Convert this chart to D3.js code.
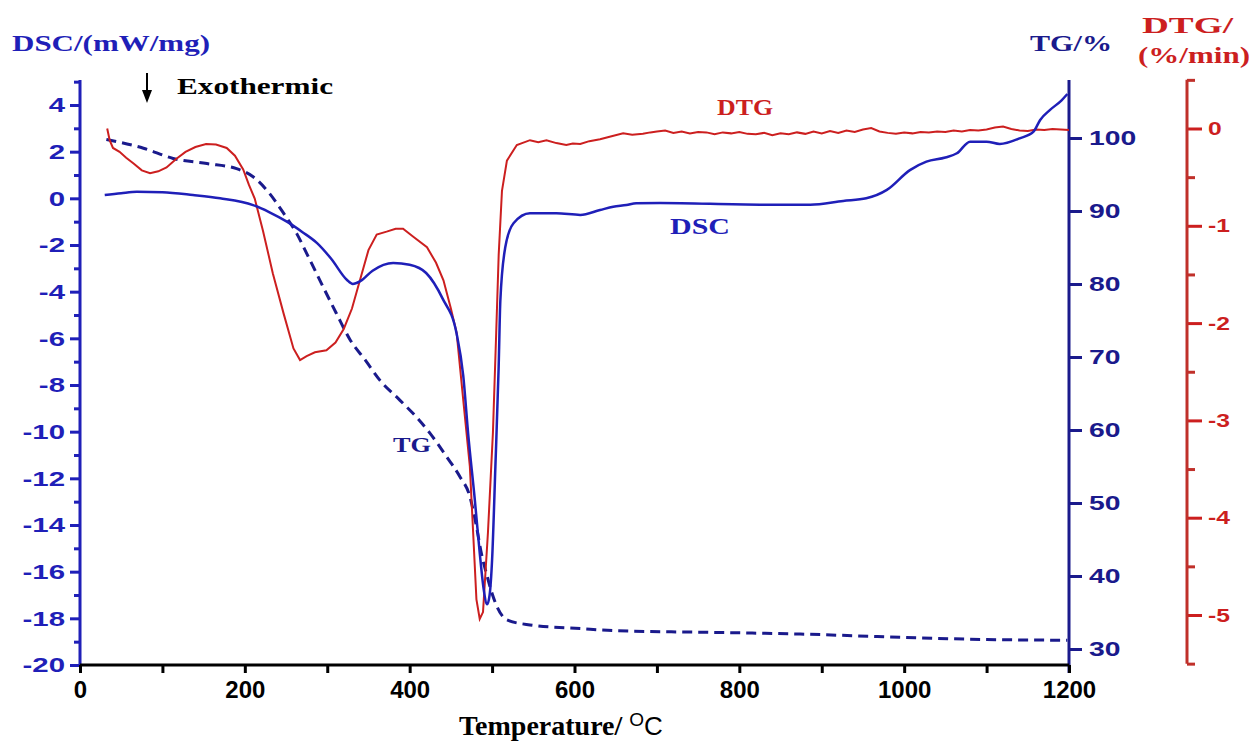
<!DOCTYPE html>
<html>
<head>
<meta charset="utf-8">
<script src="https://cdn.jsdelivr.net/npm/d3@7/dist/d3.min.js"></script>
<style>
  body { margin: 0; background: #fff; }
  svg { display: block; font-family: "Liberation Serif", "Times New Roman", serif; }
</style>
</head>
<body>
<div id="chart"></div>
<script>
// DSC curve (mW/mg) against temperature (°C)
const dscTemp = [30, 50, 69, 100, 137, 170, 210, 230, 251, 270, 288, 305, 324, 331, 340, 355, 380, 400, 420, 440,
  457, 465, 471, 479, 485, 490, 494, 497, 500, 504, 508, 510, 516, 526, 546, 578, 607, 631, 647, 663,
  675, 704, 825, 886, 926, 954, 979, 1007, 1027, 1050, 1064, 1080, 1100, 1116, 1140, 1157, 1165, 1177, 1191, 1198];
const dscValue = [0.14, 0.22, 0.28, 0.26, 0.14, 0.0, -0.29, -0.6, -1.0, -1.45, -1.93, -2.6, -3.5, -3.67, -3.55, -3.1, -2.77, -2.85, -3.2, -4.3,
  -5.8, -7.6, -10.1, -12.9, -15.2, -16.8, -17.4, -17.0, -15.5, -11.5, -7.2, -4.4, -2.1, -1.07, -0.64, -0.64, -0.71, -0.5, -0.36, -0.29,
  -0.21, -0.2, -0.27, -0.27, -0.11, 0.0, 0.36, 1.21, 1.57, 1.75, 1.93, 2.43, 2.43, 2.33, 2.57, 2.86, 3.36, 3.79, 4.2, 4.47];

// TG curve (%)
const tgTemp = [32, 77, 113, 154, 190, 210, 230, 247, 263, 275, 295, 311, 328, 346, 364, 388, 408, 425, 445, 461,
  473, 481, 487, 493, 500, 506, 518, 546, 607, 650, 752, 874, 995, 1100, 1198];
const tgValue = [99.8, 98.6, 97.2, 96.5, 95.8, 94.7, 92.4, 89.7, 86.9, 84.2, 79.6, 76.0, 72.3, 69.6, 66.8, 64.1, 61.8, 59.5, 56.3, 53.6,
  50.9, 46.8, 43.1, 40.4, 37.6, 35.8, 34.0, 33.3, 32.8, 32.5, 32.3, 32.05, 31.6, 31.3, 31.2];

// DTG curve (%/min)
const dtgTemp = [33, 36, 40, 48, 56, 65, 75, 85, 95, 105, 117, 128, 140, 153, 165, 178, 188, 198, 205, 212,
  222, 234, 247, 259, 267, 275, 285, 299, 310, 320, 330, 340, 350, 360, 372, 383, 392, 404, 421, 432,
  441, 450, 457, 465, 473, 477, 481, 485, 489, 495, 501, 505, 508, 512, 518, 530, 546, 556, 566, 578,
  590, 598, 607, 618, 631, 645, 659, 670, 683, 692, 700, 710, 720, 730, 740, 750, 760, 770, 780, 790,
  800, 810, 820, 830, 840, 850, 860, 870, 880, 890, 900, 910, 920, 930, 940, 950, 960, 970, 980, 990,
  1000, 1010, 1020, 1030, 1040, 1050, 1060, 1070, 1080, 1090, 1100, 1110, 1120, 1130, 1140, 1150, 1160, 1170, 1180, 1190, 1200];
const dtgValue = [0.0, -0.12, -0.2, -0.24, -0.3, -0.36, -0.43, -0.46, -0.44, -0.4, -0.31, -0.24, -0.19, -0.16, -0.165, -0.2, -0.28, -0.42, -0.58, -0.72,
  -1.05, -1.49, -1.9, -2.26, -2.38, -2.34, -2.3, -2.28, -2.2, -2.06, -1.85, -1.55, -1.25, -1.09, -1.06, -1.03, -1.03, -1.11, -1.22, -1.38,
  -1.56, -1.85, -2.1, -2.79, -3.47, -4.15, -4.84, -5.04, -4.97, -4.15, -3.13, -2.1, -1.3, -0.64, -0.33, -0.17, -0.12, -0.14, -0.12, -0.15,
  -0.17, -0.155, -0.16, -0.13, -0.11, -0.08, -0.05, -0.065, -0.055, -0.04, -0.03, -0.02, -0.045, -0.03, -0.05, -0.035, -0.04, -0.06, -0.04, -0.05,
  -0.035, -0.055, -0.06, -0.045, -0.07, -0.05, -0.06, -0.04, -0.055, -0.03, -0.05, -0.025, -0.045, -0.02, -0.035, -0.01, 0.005, -0.03, -0.045, -0.055,
  -0.04, -0.05, -0.035, -0.04, -0.03, -0.035, -0.02, -0.03, -0.015, -0.02, -0.01, 0.01, 0.02, -0.005, -0.02, -0.025, -0.01, -0.015, -0.005, -0.01, -0.015];

// Tick values
const tempTicks = [0, 200, 400, 600, 800, 1000, 1200];
const tempMinor = [100, 300, 500, 700, 900, 1100];
const dscTicks = [-20, -18, -16, -14, -12, -10, -8, -6, -4, -2, 0, 2, 4];
const dscMinor = [-19, -17, -15, -13, -11, -9, -7, -5, -3, -1, 1, 3, 5];
const tgTicks = [30, 40, 50, 60, 70, 80, 90, 100];
const dtgTicks = [-5, -4, -3, -2, -1, 0];
const dtgMinor = [-5.5, -4.5, -3.5, -2.5, -1.5, -0.5, 0.5];

const BLUE = '#1f1fb8';
const NAVY = '#1a1a8c';
const RED = '#cc1f1f';
const DARKRED = '#c0302a';

const width = 1259;
const height = 742;
const plot = { left: 80, right: 1069, top: 80, bottom: 665 };
const dtgAxisX = 1187;

const svg = d3.select('#chart').append('svg').attr('width', width).attr('height', height);

// Scales
const x = d3.scaleLinear().domain([0, 1200]).range([plot.left, plot.right]);
const yDsc = d3.scaleLinear().domain([-20, 4]).range([665, 105]);
const yTg = d3.scaleLinear().domain([30, 100]).range([649, 138]);
const yDtg = d3.scaleLinear().domain([-5, 0]).range([615, 128.5]);

// stretch text horizontally like the source figure
function widen(sel, k) {
  sel.each(function () {
    const w = this.getComputedTextLength();
    d3.select(this).attr('textLength', w * k).attr('lengthAdjust', 'spacingAndGlyphs');
  });
}

function styleAxis(g, color, fontSize) {
  g.select('.domain').remove();
  g.selectAll('line').attr('stroke', color).attr('stroke-width', 3);
  g.selectAll('text')
    .attr('fill', color)
    .attr('font-size', fontSize)
    .attr('font-weight', 'bold');
}

// Left DSC axis
const gLeft = svg.append('g').attr('transform', `translate(${plot.left},0)`);
gLeft.call(d3.axisLeft(yDsc).tickValues(dscMinor).tickSize(6).tickFormat(''));
gLeft.call(g => styleAxis(g, BLUE, 21));
const gLeftMajor = svg.append('g').attr('transform', `translate(${plot.left},0)`)
  .call(d3.axisLeft(yDsc).tickValues(dscTicks).tickSize(10).tickPadding(5).tickFormat(d => d));
styleAxis(gLeftMajor, BLUE, 21);
gLeftMajor.selectAll('text').call(widen, 1.4);
svg.append('line')
  .attr('x1', plot.left).attr('x2', plot.left)
  .attr('y1', plot.top).attr('y2', plot.bottom + 1)
  .attr('stroke', BLUE).attr('stroke-width', 3);

// Right TG axis
const gTg = svg.append('g').attr('transform', `translate(${plot.right},0)`)
  .call(d3.axisRight(yTg).tickValues(tgTicks).tickSize(13).tickPadding(7));
styleAxis(gTg, NAVY, 21);
gTg.selectAll('text').call(widen, 1.35);
svg.append('line')
  .attr('x1', plot.right).attr('x2', plot.right)
  .attr('y1', plot.top).attr('y2', plot.bottom + 8)
  .attr('stroke', NAVY).attr('stroke-width', 3);

// DTG axis (offset)
const gDtgMinor = svg.append('g').attr('transform', `translate(${dtgAxisX},0)`)
  .call(d3.axisRight(yDtg).tickValues(dtgMinor).tickSize(8).tickFormat(''));
styleAxis(gDtgMinor, DARKRED, 18);
const gDtg = svg.append('g').attr('transform', `translate(${dtgAxisX},0)`)
  .call(d3.axisRight(yDtg).tickValues(dtgTicks).tickSize(15).tickPadding(6).tickFormat(d => d));
styleAxis(gDtg, RED, 19);
gDtg.selectAll('text').call(widen, 1.3);
svg.append('line')
  .attr('x1', dtgAxisX).attr('x2', dtgAxisX)
  .attr('y1', yDtg(0.5)).attr('y2', yDtg(-5.5))
  .attr('stroke', DARKRED).attr('stroke-width', 3);

// Bottom temperature axis
const gX = svg.append('g').attr('transform', `translate(0,${plot.bottom})`)
  .call(d3.axisBottom(x).tickValues(tempMinor).tickSize(8).tickFormat(''));
gX.select('.domain').remove();
gX.selectAll('line').attr('stroke', '#000').attr('stroke-width', 3);
const gXMajor = svg.append('g').attr('transform', `translate(0,${plot.bottom})`)
  .call(d3.axisBottom(x).tickValues(tempTicks).tickSize(8).tickPadding(8).tickFormat(d => d));
gXMajor.select('.domain').remove();
gXMajor.selectAll('line').attr('stroke', '#000').attr('stroke-width', 3);
gXMajor.selectAll('text').attr('fill', '#000').attr('font-size', 24).attr('font-weight', 'bold');
svg.append('line')
  .attr('x1', plot.left).attr('x2', plot.right)
  .attr('y1', plot.bottom).attr('y2', plot.bottom)
  .attr('stroke', '#000').attr('stroke-width', 3);

// Curves
const dscData = dscTemp.map((t, i) => ({ t, v: dscValue[i] }));
const tgData = tgTemp.map((t, i) => ({ t, v: tgValue[i] }));
const dtgData = dtgTemp.map((t, i) => ({ t, v: dtgValue[i] }));

svg.append('path')
  .datum(tgData)
  .attr('d', d3.line().x(d => x(d.t)).y(d => yTg(d.v)).curve(d3.curveMonotoneX))
  .attr('fill', 'none')
  .attr('stroke', NAVY)
  .attr('stroke-width', 3)
  .attr('stroke-dasharray', '10,6');

svg.append('path')
  .datum(dtgData)
  .attr('d', d3.line().x(d => x(d.t)).y(d => yDtg(d.v)).curve(d3.curveLinear))
  .attr('fill', 'none')
  .attr('stroke', RED)
  .attr('stroke-width', 2);

svg.append('path')
  .datum(dscData)
  .attr('d', d3.line().x(d => x(d.t)).y(d => yDsc(d.v)).curve(d3.curveMonotoneX))
  .attr('fill', 'none')
  .attr('stroke', BLUE)
  .attr('stroke-width', 2.5);

// Titles and annotations
function label(txt, px, py, color, size, len, anchor) {
  const t = svg.append('text')
    .attr('x', px).attr('y', py)
    .attr('fill', color)
    .attr('font-size', size)
    .attr('font-weight', 'bold')
    .attr('text-anchor', anchor || 'start')
    .text(txt);
  if (len) t.attr('textLength', len).attr('lengthAdjust', 'spacingAndGlyphs');
  return t;
}

label('DSC/(mW/mg)', 12, 51, BLUE, 23, 198);
label('TG/%', 1030, 51, NAVY, 23, 82);
label('DTG/', 1142, 33, RED, 24, 91);
label('(%/min)', 1138, 63, RED, 24, 112);
label('Exothermic', 177, 94, '#000', 24, 156);
label('DTG', 717, 115, RED, 23, 56);
label('DSC', 670, 234, BLUE, 23, 60);
label('TG', 393, 452, NAVY, 22, 38);

// exothermic arrow
svg.append('line')
  .attr('x1', 147).attr('x2', 147).attr('y1', 73).attr('y2', 92)
  .attr('stroke', '#000').attr('stroke-width', 2);
svg.append('path')
  .attr('d', 'M142,90 L152,90 L147,103 Z')
  .attr('fill', '#000');

// x axis title with superscript O
const xTitle = svg.append('text')
  .attr('x', 459).attr('y', 735)
  .attr('fill', '#000')
  .attr('font-size', 28)
  .attr('font-weight', 'bold');
xTitle.append('tspan').text('Temperature/ ');
xTitle.append('tspan')
  .attr('font-family', '"Liberation Sans", Arial, sans-serif')
  .attr('font-weight', 'normal')
  .attr('font-size', 19)
  .attr('dy', -9)
  .text('O');
xTitle.append('tspan')
  .attr('font-family', '"Liberation Sans", Arial, sans-serif')
  .attr('font-weight', 'normal')
  .attr('font-size', 26)
  .attr('dy', 9)
  .text('C');
</script>
</body>
</html>
